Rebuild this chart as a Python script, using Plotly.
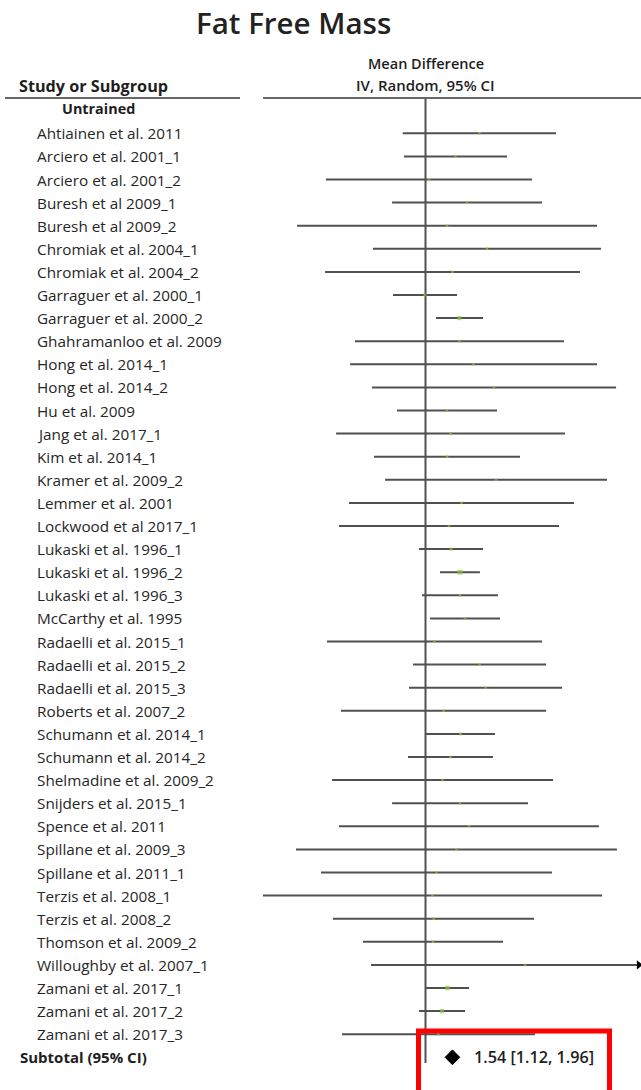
import plotly.graph_objects as go

# ---------------- data ----------------
studies = [
    "Ahtiainen et al. 2011", "Arciero et al. 2001_1", "Arciero et al. 2001_2",
    "Buresh et al 2009_1", "Buresh et al 2009_2", "Chromiak et al. 2004_1",
    "Chromiak et al. 2004_2", "Garraguer et al. 2000_1", "Garraguer et al. 2000_2",
    "Ghahramanloo et al. 2009", "Hong et al. 2014_1", "Hong et al. 2014_2",
    "Hu et al. 2009", "Jang et al. 2017_1", "Kim et al. 2014_1",
    "Kramer et al. 2009_2", "Lemmer et al. 2001", "Lockwood et al 2017_1",
    "Lukaski et al. 1996_1", "Lukaski et al. 1996_2", "Lukaski et al. 1996_3",
    "McCarthy et al. 1995", "Radaelli et al. 2015_1", "Radaelli et al. 2015_2",
    "Radaelli et al. 2015_3", "Roberts et al. 2007_2", "Schumann et al. 2014_1",
    "Schumann et al. 2014_2", "Shelmadine et al. 2009_2", "Snijders et al. 2015_1",
    "Spence et al. 2011", "Spillane et al. 2009_3", "Spillane et al. 2011_1",
    "Terzis et al. 2008_1", "Terzis et al. 2008_2", "Thomson et al. 2009_2",
    "Willoughby et al. 2007_1", "Zamani et al. 2017_1", "Zamani et al. 2017_2",
    "Zamani et al. 2017_3",
]
mean_diff = [
    3.08, 1.71, 0.20, 2.37, 1.23, 3.51, 1.54, -0.03, 1.94, 1.94,
    2.74, 3.91, 1.23, 1.43, 1.23, 4.03, 2.06, 1.34, 1.46, 1.97,
    1.97, 2.26, 0.51, 3.09, 3.43, 1.03, 2.00, 1.43, 0.97, 1.97,
    2.49, 1.77, 0.63, 0.40, 0.46, 0.43, 5.69, 1.26, 0.94, 0.74,
]
ci_low = [
    -1.30, -1.23, -5.69, -1.91, -7.34, -3.00, -5.74, -1.86, 0.60, -4.03,
    -4.31, -3.06, -1.63, -5.11, -2.94, -2.31, -4.37, -4.94, -0.37, 0.83,
    -0.20, 0.26, -5.63, -0.71, -0.94, -4.83, 0.03, -1.00, -5.34, -1.91,
    -4.94, -7.40, -5.97, -9.29, -5.29, -3.57, -3.11, 0.03, -0.37, -4.77,
]
ci_high = [
    7.46, 4.66, 6.09, 6.66, 9.80, 10.03, 8.83, 1.80, 3.29, 7.91,
    9.80, 10.89, 4.09, 7.97, 5.40, 10.37, 8.49, 7.63, 3.29, 3.11,
    4.14, 4.26, 6.66, 6.89, 7.80, 6.89, 3.97, 3.86, 7.29, 5.86,
    9.91, 10.94, 7.23, 10.09, 6.20, 4.43, 14.49, 2.49, 2.26, 6.26,
]
subtotal_mean, subtotal_low, subtotal_high = 1.54, 1.12, 1.96

title_text = "Fat Free Mass"
subgroup_name = "Untrained"
subtotal_name = "Subtotal (95% CI)"

# ---------------- geometry ----------------
W, H = 641, 1090
X0_PX, PX_PER_UNIT = 425.5, 17.5
ROW0_PX, ROW_PX = 133.3, 23.1

def row(px):
    return (px - ROW0_PX) / ROW_PX

def px_x(px):
    return px / W

def px_y(px):
    return 1 - px / H

x_range = [(0 - X0_PX) / PX_PER_UNIT, (W - X0_PX) / PX_PER_UNIT]
y_range = [row(H), row(0)]

n = len(studies)
rows = list(range(n))
sub_row = n

LINE_COL = "#505050"
TEXT_COL = "#262626"
HEAD_COL = "#1e1e1e"
FONT = "Open Sans"

fig = go.Figure()

# CI lines
lx, ly = [], []
for i, (lo, hi) in enumerate(zip(ci_low, ci_high)):
    lx += [lo, hi, None]
    ly += [i, i, None]
fig.add_trace(go.Scatter(x=lx, y=ly, mode="lines",
                         line=dict(color=LINE_COL, width=2),
                         hoverinfo="skip", showlegend=False))

# point estimates (size grows as CI narrows)
sizes = [max(2.5, min(6, 11.0 / (hi - lo))) for lo, hi in zip(ci_low, ci_high)]
fig.add_trace(go.Scatter(x=mean_diff, y=rows, mode="markers",
                         marker=dict(symbol="square", size=sizes, color="#8dc63f",
                                     line=dict(width=0)),
                         text=studies, showlegend=False))

# arrows for CIs beyond the right limit
ax_, ay_ = [], []
for i, hi in enumerate(ci_high):
    if hi > x_range[1]:
        ax_.append(x_range[1] - 0.12)
        ay_.append(i)
fig.add_trace(go.Scatter(x=ax_, y=ay_, mode="markers",
                         marker=dict(symbol="triangle-right", size=8, color="black"),
                         cliponaxis=False, hoverinfo="skip", showlegend=False))

# subtotal diamond
dh = 0.32
fig.add_trace(go.Scatter(
    x=[subtotal_low, subtotal_mean, subtotal_high, subtotal_mean, subtotal_low],
    y=[sub_row, sub_row - dh, sub_row, sub_row + dh, sub_row],
    mode="lines", fill="toself", fillcolor="black",
    line=dict(color="black", width=1), hoverinfo="skip", showlegend=False))

annotations = []
for i, s in enumerate(studies):
    annotations.append(dict(text=s, xref="paper", x=px_x(35), xanchor="left",
                            yref="y", y=i, yanchor="middle", showarrow=False,
                            font=dict(family=FONT, size=15.3, color=TEXT_COL)))
annotations += [
    dict(text=title_text, xref="paper", x=px_x(293.5), xanchor="center",
         yref="paper", y=px_y(22), yanchor="middle", showarrow=False,
         font=dict(family=FONT, size=29.5, color="#222222", weight=600)),
    dict(text="Study or Subgroup", xref="paper", x=px_x(17), xanchor="left",
         yref="paper", y=px_y(86), yanchor="middle", showarrow=False,
         font=dict(family=FONT, size=16.2, color=HEAD_COL, weight="bold")),
    dict(text="Mean Difference", xref="paper", x=px_x(426), xanchor="center",
         yref="paper", y=px_y(63), yanchor="middle", showarrow=False,
         font=dict(family=FONT, size=14.5, color=HEAD_COL, weight=600)),
    dict(text="IV, Random, 95% CI", xref="paper", x=px_x(425), xanchor="center",
         yref="paper", y=px_y(85), yanchor="middle", showarrow=False,
         font=dict(family=FONT, size=15, color=HEAD_COL, weight=600)),
    dict(text=subgroup_name, xref="paper", x=px_x(60), xanchor="left",
         yref="paper", y=px_y(109), yanchor="middle", showarrow=False,
         font=dict(family=FONT, size=14.4, color=HEAD_COL, weight="bold")),
    dict(text=subtotal_name, xref="paper", x=px_x(18), xanchor="left",
         yref="y", y=sub_row, yanchor="middle", showarrow=False,
         font=dict(family=FONT, size=15, color=HEAD_COL, weight="bold")),
    dict(text=f"{subtotal_mean:.2f} [{subtotal_low:.2f}, {subtotal_high:.2f}]",
         xref="paper", x=px_x(472), xanchor="left",
         yref="y", y=sub_row, yanchor="middle", showarrow=False,
         font=dict(family=FONT, size=16.2, color=HEAD_COL, weight=600)),
]

shapes = [
    # header rules
    dict(type="line", xref="paper", yref="paper", x0=px_x(5), x1=px_x(240),
         y0=px_y(98), y1=px_y(98), line=dict(color="#666666", width=2)),
    dict(type="line", xref="paper", yref="paper", x0=px_x(263), x1=1,
         y0=px_y(98), y1=px_y(98), line=dict(color="#666666", width=2)),
    # line of no effect
    dict(type="line", xref="x", yref="y", x0=0, x1=0, y0=row(98), y1=row(1063),
         line=dict(color=LINE_COL, width=2), layer="below"),
    # red highlight box
    dict(type="rect", xref="paper", yref="paper", x0=px_x(418.5), x1=px_x(609.5),
         y0=px_y(1031), y1=px_y(1110), line=dict(color="#ff0000", width=5),
         fillcolor="rgba(0,0,0,0)"),
]

fig.update_layout(
    width=W, height=H, margin=dict(l=0, r=0, t=0, b=0),
    paper_bgcolor="white", plot_bgcolor="white",
    xaxis=dict(range=x_range, visible=False, fixedrange=True),
    yaxis=dict(range=y_range, visible=False, fixedrange=True),
    annotations=annotations, shapes=shapes, showlegend=False,
)

fig.write_html(
    "out.html",
    config={"displayModeBar": False},
    post_script="document.body.style.margin='0px';document.body.style.overflow='hidden';",
)
